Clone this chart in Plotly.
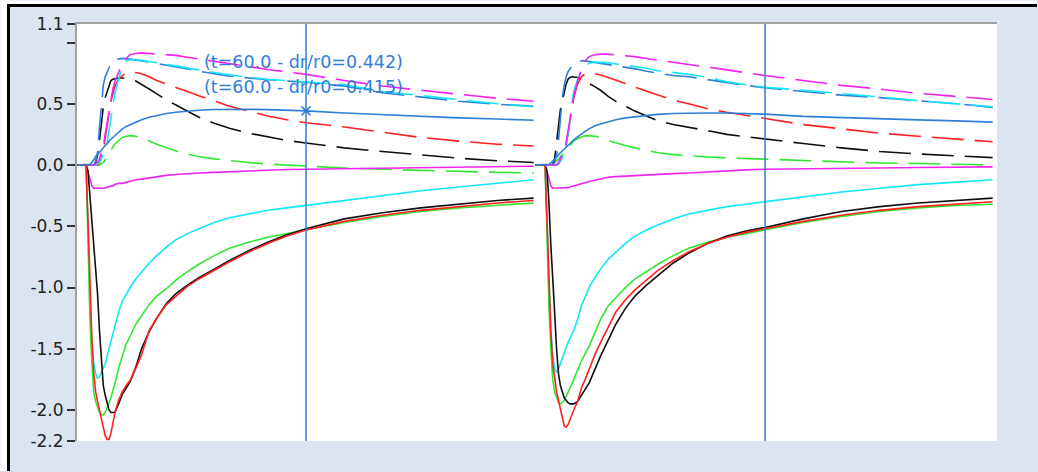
import plotly.graph_objects as go

# ---------------------------------------------------------------------------
# Time base: two identical 120-unit cycles; samples given as phase within a cycle
# ---------------------------------------------------------------------------
PERIOD = 120.0
PHASE = [0, 2.5, 3.0, 3.5, 4.0, 4.5, 5.0, 5.5, 6.0, 6.5,
         7.0, 7.5, 8.0, 8.5, 9.0, 9.5, 10, 11, 12, 13,
         14, 15.5, 17, 19, 21, 23.5, 26, 29, 32, 36,
         40, 45, 50, 55, 60, 70, 80, 90, 100, 110,
         119.5]
CURSOR_PHASE = 60.0

# ----------------------------- solid series --------------------------------
RED_SOLID_1 = [0, 0, -0.45, -1.0, -1.4, -1.7, -1.85, -1.93, -2.0, -2.08,
               -2.15, -2.21, -2.24, -2.24, -2.19, -2.1, -2.03, -1.92, -1.85, -1.8,
               -1.76, -1.66, -1.55, -1.35, -1.25, -1.14, -1.07, -0.99, -0.93, -0.86,
               -0.79, -0.71, -0.64, -0.58, -0.53, -0.46, -0.41, -0.37, -0.34, -0.31,
               -0.29]
RED_SOLID_2 = [0, 0, -0.45, -0.95, -1.35, -1.62, -1.76, -1.85, -1.92, -2.0,
               -2.08, -2.13, -2.14, -2.12, -2.08, -2.03, -2.0, -1.93, -1.82, -1.75,
               -1.67, -1.55, -1.45, -1.32, -1.2, -1.1, -1.02, -0.94, -0.86, -0.78,
               -0.71, -0.64, -0.59, -0.55, -0.52, -0.46, -0.41, -0.37, -0.34, -0.32,
               -0.3]
BLACK_SOLID_1 = [0, 0, -0.05, -0.25, -0.45, -0.65, -0.85, -1.05, -1.35, -1.62,
                 -1.8, -1.88, -1.95, -2.0, -2.02, -2.02, -2.02, -1.95, -1.87, -1.82,
                 -1.77, -1.65, -1.5, -1.36, -1.25, -1.13, -1.05, -0.98, -0.92, -0.85,
                 -0.78, -0.7, -0.63, -0.57, -0.52, -0.44, -0.39, -0.35, -0.32, -0.29,
                 -0.27]
BLACK_SOLID_2 = [0, 0, -0.05, -0.3, -0.65, -0.9, -1.2, -1.5, -1.7, -1.8,
                 -1.86, -1.9, -1.92, -1.94, -1.95, -1.95, -1.95, -1.93, -1.88, -1.83,
                 -1.78, -1.67, -1.56, -1.43, -1.3, -1.17, -1.07, -0.98, -0.9, -0.8,
                 -0.72, -0.64, -0.58, -0.54, -0.51, -0.44, -0.38, -0.34, -0.31, -0.29,
                 -0.27]
GREEN_SOLID_1 = [0, 0, -0.6, -1.25, -1.6, -1.85, -1.93, -1.98, -2.02, -2.04,
                 -2.04, -2.02, -1.98, -1.95, -1.9, -1.84, -1.79, -1.66, -1.55, -1.46,
                 -1.4, -1.3, -1.23, -1.14, -1.07, -1.01, -0.94, -0.87, -0.81, -0.74,
                 -0.68, -0.63, -0.59, -0.56, -0.53, -0.47, -0.42, -0.38, -0.35, -0.33,
                 -0.31]
GREEN_SOLID_2 = [0, 0, -0.55, -1.15, -1.5, -1.75, -1.85, -1.9, -1.94, -1.95,
                 -1.94, -1.92, -1.89, -1.86, -1.83, -1.79, -1.75, -1.67, -1.6, -1.54,
                 -1.48, -1.37, -1.26, -1.15, -1.08, -1.0, -0.93, -0.87, -0.81, -0.74,
                 -0.68, -0.63, -0.59, -0.56, -0.53, -0.47, -0.42, -0.38, -0.35, -0.33,
                 -0.32]
CYAN_SOLID_1 = [0, 0, -0.5, -1.1, -1.45, -1.62, -1.7, -1.74, -1.73, -1.69,
                -1.66, -1.62, -1.56, -1.5, -1.44, -1.37, -1.32, -1.2, -1.11, -1.05,
                -1.0, -0.93, -0.87, -0.8, -0.74, -0.67, -0.61, -0.56, -0.52, -0.47,
                -0.43, -0.4, -0.37, -0.35, -0.33, -0.29, -0.25, -0.21, -0.18, -0.15,
                -0.12]
CYAN_SOLID_2 = [0, 0, -0.45, -1.0, -1.35, -1.55, -1.66, -1.69, -1.67, -1.62,
                -1.57, -1.53, -1.49, -1.45, -1.41, -1.38, -1.35, -1.26, -1.15, -1.07,
                -1.0, -0.92, -0.85, -0.77, -0.71, -0.64, -0.58, -0.53, -0.49, -0.44,
                -0.4, -0.37, -0.34, -0.32, -0.3, -0.26, -0.22, -0.19, -0.16, -0.14,
                -0.12]
MAGENTA_SOLID_1 = [0, 0, -0.05, -0.12, -0.17, -0.19, -0.19, -0.19, -0.19, -0.19,
                   -0.19, -0.19, -0.18, -0.18, -0.17, -0.17, -0.16, -0.15, -0.15, -0.14,
                   -0.13, -0.12, -0.115, -0.105, -0.095, -0.085, -0.078, -0.07, -0.065, -0.06,
                   -0.055, -0.045, -0.04, -0.037, -0.035, -0.03, -0.027, -0.022, -0.018, -0.014,
                   -0.01]
MAGENTA_SOLID_2 = [0, 0, -0.05, -0.12, -0.17, -0.19, -0.19, -0.19, -0.19, -0.19,
                   -0.19, -0.19, -0.19, -0.185, -0.18, -0.175, -0.17, -0.16, -0.15, -0.14,
                   -0.135, -0.125, -0.115, -0.1, -0.095, -0.09, -0.085, -0.08, -0.075, -0.07,
                   -0.065, -0.055, -0.045, -0.04, -0.035, -0.033, -0.03, -0.025, -0.02, -0.017,
                   -0.015]
BLUE_SOLID_1 = [0, 0, 0.0, 0.005, 0.02, 0.04, 0.07, 0.085, 0.1, 0.12,
                0.14, 0.16, 0.18, 0.195, 0.21, 0.225, 0.24, 0.27, 0.295, 0.315,
                0.33, 0.35, 0.37, 0.39, 0.405, 0.42, 0.43, 0.44, 0.447, 0.453,
                0.456, 0.455, 0.452, 0.447, 0.442, 0.425, 0.41, 0.398, 0.385, 0.375,
                0.365]
BLUE_SOLID_2 = [0, 0, 0.0, 0.005, 0.015, 0.03, 0.05, 0.065, 0.08, 0.1,
                0.115, 0.13, 0.15, 0.165, 0.18, 0.195, 0.205, 0.23, 0.255, 0.275,
                0.295, 0.32, 0.335, 0.355, 0.37, 0.385, 0.395, 0.405, 0.413, 0.42,
                0.424, 0.425, 0.424, 0.42, 0.415, 0.397, 0.386, 0.376, 0.368, 0.36,
                0.35]

# ----------------------------- dashed series -------------------------------
MAGENTA_DASH_1 = [0, 0, 0, 0, 0, 0, 0.01, 0.02, 0.05, 0.1,
                  0.15, 0.25, 0.35, 0.45, 0.55, 0.62, 0.68, 0.76, 0.83, 0.87,
                  0.9, 0.91, 0.915, 0.91, 0.905, 0.9, 0.895, 0.88, 0.865, 0.845,
                  0.825, 0.8, 0.78, 0.76, 0.74, 0.69, 0.645, 0.61, 0.575, 0.545,
                  0.52]
MAGENTA_DASH_2 = [0, 0, 0, 0, 0, 0, 0, 0, 0.02, 0.05,
                  0.08, 0.12, 0.18, 0.28, 0.38, 0.48, 0.56, 0.68, 0.78, 0.85,
                  0.885, 0.9, 0.905, 0.905, 0.9, 0.895, 0.885, 0.87, 0.855, 0.84,
                  0.82, 0.8, 0.775, 0.75, 0.73, 0.69, 0.65, 0.62, 0.585, 0.56,
                  0.535]
CYAN_DASH_1 = [0, 0, 0, 0, 0, 0, 0, 0.01, 0.02, 0.05,
               0.08, 0.12, 0.18, 0.28, 0.4, 0.5, 0.58, 0.7, 0.8, 0.85,
               0.86, 0.86, 0.855, 0.845, 0.835, 0.82, 0.805, 0.79, 0.775, 0.755,
               0.735, 0.715, 0.7, 0.69, 0.68, 0.655, 0.6, 0.565, 0.53, 0.5,
               0.475]
CYAN_DASH_2 = [0, 0, 0, 0, 0, 0, 0, 0, 0.01, 0.03,
               0.06, 0.1, 0.16, 0.25, 0.35, 0.5, 0.6, 0.7, 0.77, 0.81,
               0.83, 0.84, 0.84, 0.835, 0.825, 0.815, 0.805, 0.79, 0.77, 0.755,
               0.74, 0.715, 0.68, 0.655, 0.635, 0.61, 0.585, 0.555, 0.525, 0.5,
               0.475]
BLUE_DASH_1 = [0, 0, 0, 0, 0, 0, 0.03, 0.1, 0.3, 0.5,
               0.65, 0.72, 0.76, 0.8, 0.83, 0.85, 0.86, 0.865, 0.87, 0.868,
               0.865, 0.86, 0.85, 0.84, 0.83, 0.815, 0.8, 0.785, 0.765, 0.745,
               0.725, 0.71, 0.695, 0.685, 0.675, 0.645, 0.59, 0.555, 0.52, 0.495,
               0.48]
BLUE_DASH_2 = [0, 0, 0, 0, 0, 0, 0.02, 0.08, 0.2, 0.4,
               0.55, 0.65, 0.72, 0.76, 0.79, 0.81, 0.825, 0.84, 0.85, 0.85,
               0.845, 0.84, 0.83, 0.82, 0.81, 0.8, 0.785, 0.765, 0.75, 0.73,
               0.72, 0.695, 0.67, 0.65, 0.63, 0.6, 0.57, 0.55, 0.525, 0.5,
               0.47]
RED_DASH_1 = [0, 0, 0, 0, 0, 0, 0, 0, 0.02, 0.06,
              0.12, 0.22, 0.32, 0.42, 0.52, 0.58, 0.64, 0.7, 0.73, 0.75,
              0.76, 0.755, 0.745, 0.72, 0.69, 0.66, 0.63, 0.6, 0.565, 0.52,
              0.48, 0.44, 0.4, 0.37, 0.345, 0.31, 0.265, 0.225, 0.195, 0.17,
              0.155]
RED_DASH_2 = [0, 0, 0, 0, 0, 0, 0, 0, 0.01, 0.03,
              0.06, 0.1, 0.16, 0.25, 0.36, 0.46, 0.55, 0.66, 0.72, 0.745,
              0.75, 0.745, 0.735, 0.715, 0.69, 0.665, 0.635, 0.605, 0.57, 0.53,
              0.5, 0.46, 0.43, 0.405, 0.385, 0.33, 0.295, 0.26, 0.235, 0.21,
              0.19]
BLACK_DASH_1 = [0, 0, 0, 0, 0, 0, 0.02, 0.08, 0.2, 0.35,
                0.47, 0.55, 0.6, 0.66, 0.69, 0.7, 0.705, 0.71, 0.71, 0.705,
                0.7, 0.685, 0.66, 0.62, 0.58, 0.53, 0.49, 0.44, 0.39, 0.34,
                0.3, 0.26, 0.23, 0.2, 0.18, 0.14, 0.11, 0.08, 0.055, 0.035,
                0.02]
BLACK_DASH_2 = [0, 0, 0, 0, 0, 0, 0.05, 0.2, 0.35, 0.45,
                0.52, 0.6, 0.66, 0.7, 0.715, 0.72, 0.72, 0.715, 0.7, 0.685,
                0.665, 0.64, 0.61, 0.56, 0.52, 0.48, 0.44, 0.4, 0.36, 0.33,
                0.31, 0.28, 0.25, 0.23, 0.215, 0.175, 0.14, 0.11, 0.09, 0.072,
                0.06]
GREEN_DASH_1 = [0, 0, 0, 0, 0, 0, 0, 0, 0, 0.01,
                0.02, 0.04, 0.06, 0.09, 0.12, 0.15, 0.17, 0.2, 0.225, 0.235,
                0.24, 0.235, 0.22, 0.195, 0.17, 0.14, 0.115, 0.09, 0.07, 0.05,
                0.035, 0.02, 0.008, 0.0, -0.01, -0.025, -0.035, -0.045, -0.055, -0.06,
                -0.065]
GREEN_DASH_2 = [0, 0, 0, 0, 0, 0.01, 0.02, 0.035, 0.05, 0.065,
                0.08, 0.1, 0.12, 0.14, 0.16, 0.18, 0.195, 0.215, 0.23, 0.238,
                0.24, 0.235, 0.225, 0.2, 0.18, 0.16, 0.14, 0.12, 0.1, 0.085,
                0.075, 0.065, 0.058, 0.052, 0.048, 0.035, 0.022, 0.016, 0.012, 0.004,
                0.0]

# ----------------------------- axis labels ---------------------------------
Y_RANGE = [-2.253, 1.151]
Y_TICK_VALS = [-2.253, -2.0, -1.5, -1.0, -0.5, 0.0, 0.5, 1.0, 1.151]
Y_TICK_TEXT = ["-2.2", "-2.0", "-1.5", "-1.0", "-0.5", "0.0", "0.5", "", "1.1"]
X_RANGE = [0.13, 240.65]

# ----------------------------- styling -------------------------------------
BLUE = "#2f7ed8"
MAGENTA = "#f024f0"
CYAN = "#10e8f8"
RED = "#ff2020"
BLACK = "#101010"
GREEN = "#30e830"
FRAME_BG = "#dce5ef"
DASH = "32px,11px"
LW = 1.6
FONT = "Verdana, DejaVu Sans"

W_PX, H_PX = 1038, 472
M_L, M_R, M_T, M_B = 77, 41, 24, 31
PLOT_W = W_PX - M_L - M_R
PLOT_H = H_PX - M_T - M_B


def px_to_paper(px, py):
    return (px - M_L) / PLOT_W, (H_PX - M_B - py) / PLOT_H


series = [
    # (color, dash, cycle 1, cycle 2)
    (GREEN, DASH, GREEN_DASH_1, GREEN_DASH_2),
    (BLACK, DASH, BLACK_DASH_1, BLACK_DASH_2),
    (RED, DASH, RED_DASH_1, RED_DASH_2),
    (BLUE, DASH, BLUE_DASH_1, BLUE_DASH_2),
    (CYAN, DASH, CYAN_DASH_1, CYAN_DASH_2),
    (MAGENTA, DASH, MAGENTA_DASH_1, MAGENTA_DASH_2),
    (MAGENTA, "solid", MAGENTA_SOLID_1, MAGENTA_SOLID_2),
    (CYAN, "solid", CYAN_SOLID_1, CYAN_SOLID_2),
    (GREEN, "solid", GREEN_SOLID_1, GREEN_SOLID_2),
    (BLACK, "solid", BLACK_SOLID_1, BLACK_SOLID_2),
    (RED, "solid", RED_SOLID_1, RED_SOLID_2),
    (BLUE, "solid", BLUE_SOLID_1, BLUE_SOLID_2),
]

fig = go.Figure()
for color, dash, cyc1, cyc2 in series:
    for k, values in enumerate((cyc1, cyc2)):
        fig.add_trace(go.Scatter(
            x=[p + k * PERIOD for p in PHASE],
            y=values,
            mode="lines",
            line=dict(color=color, width=LW, dash=dash),
            hoverinfo="skip",
            showlegend=False,
        ))

# cursor readouts on the solid blue curve
ci = PHASE.index(CURSOR_PHASE)
readouts = [BLUE_SOLID_1[ci], BLUE_SOLID_2[ci]]

fig.add_trace(go.Scatter(
    x=[CURSOR_PHASE], y=[readouts[0]], mode="markers",
    marker=dict(symbol="x-thin", size=9, line=dict(color=BLUE, width=1.5)),
    hoverinfo="skip", showlegend=False,
))


def px_rect(x0, y0, x1, y1, color):
    """Filled, borderless rectangle given in page pixels."""
    ax0, ay0 = px_to_paper(x0, y0)
    ax1, ay1 = px_to_paper(x1, y1)
    return dict(type="rect", xref="paper", yref="paper",
                x0=ax0, x1=ax1, y0=ay1, y1=ay0,
                fillcolor=color, line=dict(width=0))


# outer frame: white margin outside a black top/left rule
# (kept just inside the page edges)
EDGE_R, EDGE_B = W_PX - 1, H_PX - 1
shapes = [
    px_rect(0.5, 0.5, EDGE_R, 4, "white"),
    px_rect(0.5, 0.5, 7, EDGE_B, "white"),
    px_rect(7, 4, EDGE_R, 7, "black"),
    px_rect(7, 4, 10, EDGE_B, "black"),
]
for k in range(2):
    shapes.append(dict(type="line", xref="x", yref="paper",
                       x0=CURSOR_PHASE + k * PERIOD, x1=CURSOR_PHASE + k * PERIOD,
                       y0=0, y1=1, line=dict(color=BLUE, width=1.5)))

annotations = []
label_y = [0.841, 0.637]
for k in range(2):
    annotations.append(dict(
        x=32.8, y=label_y[k], xref="x", yref="y",
        text=f"(t={CURSOR_PHASE:.1f} - dr/r0={readouts[k]:.3f})",
        showarrow=False, xanchor="left", yanchor="middle",
        font=dict(family=FONT, size=17.5, color=BLUE),
    ))

fig.update_layout(
    width=W_PX, height=H_PX,
    margin=dict(l=M_L, r=M_R, t=M_T, b=M_B, pad=0),
    paper_bgcolor=FRAME_BG,
    plot_bgcolor="white",
    shapes=shapes,
    annotations=annotations,
    showlegend=False,
    xaxis=dict(range=X_RANGE, side="top", showline=True, linecolor="#a0a0a0",
               linewidth=2, showgrid=False, zeroline=False, ticks="",
               showticklabels=False, fixedrange=True),
    yaxis=dict(range=Y_RANGE, showline=True, linecolor="#a0a0a0", linewidth=2,
               showgrid=False, zeroline=False, ticks="outside", ticklen=8,
               tickwidth=2, tickcolor="#333333",
               tickvals=Y_TICK_VALS, ticktext=Y_TICK_TEXT,
               tickfont=dict(family=FONT, size=17, color="#222222"),
               fixedrange=True),
)

fig.write_html("out.html", config={"displayModeBar": False})
